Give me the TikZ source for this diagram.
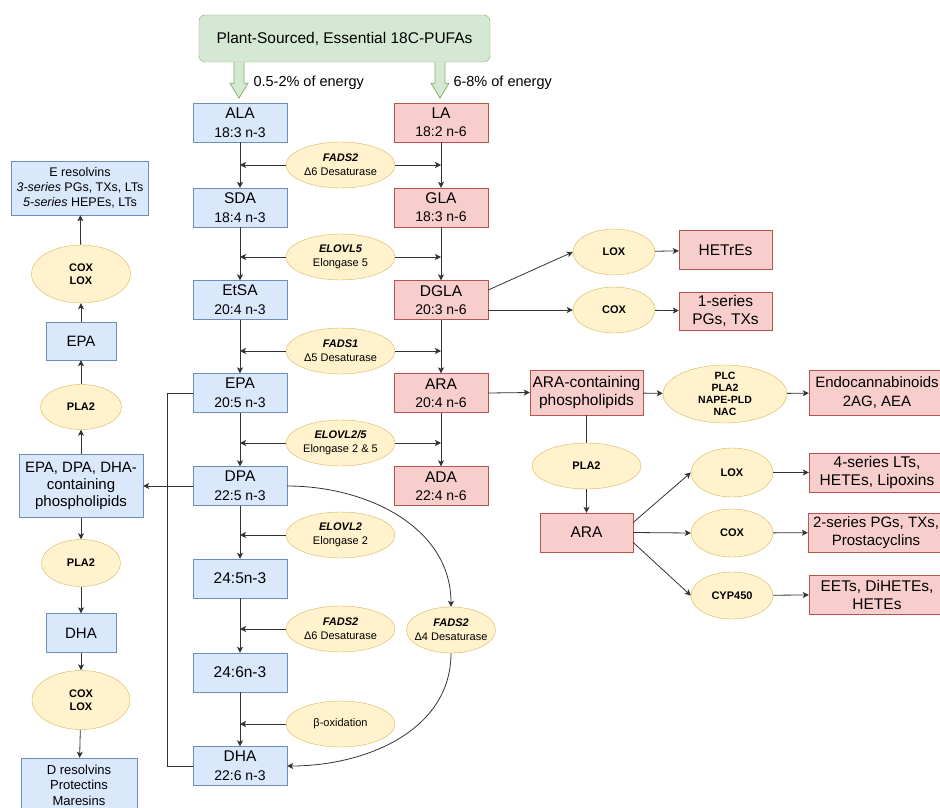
\documentclass[tikz,border=0pt]{standalone}
\usepackage{fontspec}
\setmainfont{Liberation Sans}
\usepackage{xcolor}
\usepackage{tikz}
\usetikzlibrary{arrows.meta, shapes.geometric, calc}
\definecolor{nthreefill}{HTML}{DAE8FC}
\definecolor{nthreeline}{HTML}{6C8EBF}
\definecolor{nsixfill}{HTML}{F8CECC}
\definecolor{nsixline}{HTML}{B85450}
\definecolor{enzfill}{HTML}{FFF2CC}
\definecolor{enzline}{HTML}{D6B656}
\definecolor{srcfill}{HTML}{D5E8D4}
\definecolor{srcline}{HTML}{82B366}
\definecolor{wire}{HTML}{333333}

\newcommand{\fsz}[2]{\fontsize{#1}{#2}\selectfont}
\newcommand{\acid}[2]{#1\\{\fsz{14}{19}#2}}
\newcommand{\enz}[2]{{\bfseries\itshape #1}\\#2}

\begin{document}
\begin{tikzpicture}[x=1pt, y=-1pt, >={Stealth[length=6pt, width=6pt, inset=1.5pt]},
  wire/.style={draw=wire, line width=0.8pt},
  nthree/.style={draw=nthreeline, fill=nthreefill, inner sep=0pt, align=center, font=\fsz{15.5}{19}},
  nsix/.style={draw=nsixline, fill=nsixfill, inner sep=0pt, align=center, font=\fsz{15.5}{18}},
  chainbox/.style={minimum width=94pt, minimum height=39pt},
  enzyme/.style={ellipse, draw=enzline, fill=enzfill, inner sep=0pt, align=center,
    font=\fsz{11}{14}, minimum width=109pt, minimum height=46pt},
  enzb/.style={ellipse, draw=enzline, fill=enzfill, inner sep=0pt, align=center,
    font=\fsz{11}{12.5}\bfseries, minimum width=82pt, minimum height=46pt},
  energy/.style={draw=srcline, fill=srcfill, line width=0.8pt, line join=miter}]
  \useasboundingbox (0,0) rectangle (940,808);

  % Source box and energy arrows
  \node[draw=srcline, fill=srcfill, rounded corners=6pt, minimum width=291pt, minimum height=47pt,
    font=\fsz{15.5}{18}] (src) at (344.5,38.5) {Plant-Sourced, Essential 18C-PUFAs};

  % omega-3 chain
  \node[nthree, chainbox] (ala) at (240,122.5) {\acid{ALA}{18:3 n-3}};
  \node[nthree, chainbox] (sda) at (240,207.5) {\acid{SDA}{18:4 n-3}};
  \node[nthree, chainbox] (etsa) at (240,300) {\acid{EtSA}{20:4 n-3}};
  \node[nthree, chainbox] (epa) at (240,393) {\acid{EPA}{20:5 n-3}};
  \node[nthree, chainbox] (dpa) at (240,486) {\acid{DPA}{22:5 n-3}};
  \node[nthree, chainbox] (cfive) at (240,578.5) {24:5n-3};
  \node[nthree, chainbox] (csix) at (240,672.5) {24:6n-3};
  \node[nthree, chainbox] (dha) at (240,766) {\acid{DHA}{22:6 n-3}};

  % omega-6 chain
  \node[nsix, chainbox] (la) at (441,122.5) {\acid{LA}{18:2 n-6}};
  \node[nsix, chainbox] (gla) at (441,207.5) {\acid{GLA}{18:3 n-6}};
  \node[nsix, chainbox] (dgla) at (441,300) {\acid{DGLA}{20:3 n-6}};
  \node[nsix, chainbox] (ara) at (441,393) {\acid{ARA}{20:4 n-6}};
  \node[nsix, chainbox] (ada) at (441,486) {\acid{ADA}{22:4 n-6}};

  \foreach \tgt in {ala,la}
    \draw[energy] ($(src.south -| \tgt)+(-6,0)$) -- ++(0,21) -- ++(-4,0) -- ++(9,15)
      -- ++(9,-15) -- ++(-4,0) -- ++(0,-21);
  \node[anchor=west, font=\fsz{14.5}{17}] (enthree) at (250,83) {0.5-2\% of energy};
  \node[anchor=west, font=\fsz{14.5}{17}] (ensix) at (450,83) {6-8\% of energy};

  % Desaturases and elongases
  \node[enzyme] (fadsa) at (340.5,165) {\enz{FADS2}{Δ6 Desaturase}};
  \node[enzyme] (elovla) at (340.5,257) {\enz{ELOVL5}{Elongase 5}};
  \node[enzyme] (fadsb) at (340.5,351) {\enz{FADS1}{Δ5 Desaturase}};
  \node[enzyme] (elovlb) at (340.5,443) {\enz{ELOVL2/5}{Elongase 2 \& 5}};
  \node[enzyme] (elovlc) at (340.5,535) {\enz{ELOVL2}{Elongase 2}};
  \node[enzyme] (fadsc) at (340.5,629) {\enz{FADS2}{Δ6 Desaturase}};
  \node[enzyme] (betaox) at (340.5,724) {β-oxidation};
  \node[enzyme, minimum width=89pt, inner xsep=-9pt] (fadsd) at (451,630) {\enz{FADS2}{Δ4 Desaturase}};

  \foreach \a/\b in {ala/sda, sda/etsa, etsa/epa, epa/dpa, dpa/cfive, cfive/csix, csix/dha,
                     la/gla, gla/dgla, dgla/ara, ara/ada}
    \draw[wire, ->] (\a) -- (\b);
  \foreach \e in {fadsa, elovla, fadsb, elovlb} {
    \draw[wire, ->] (\e.west) -- (\e.west -| ala);
    \draw[wire, ->] (\e.east) -- (\e.east -| la);
  }
  \foreach \e in {elovlc, fadsc, betaox}
    \draw[wire, ->] (\e.west) -- (\e.west -| ala);
  \draw[wire, ->] (dpa.east) to[out=0, in=90] (fadsd.north);
  \draw[wire, ->] (fadsd.south) to[out=-90, in=0] (dha.east);

  % Phospholipid branch (left)
  \node[nthree, minimum width=137pt, minimum height=54pt, font=\fsz{12.5}{15}] (eres) at (80,188)
    {E resolvins\\\textit{3-series} PGs, TXs, LTs\\\textit{5-series} HEPEs, LTs};
  \node[enzb, minimum width=99pt, minimum height=58pt] (coxa) at (81,274) {COX\\LOX};
  \node[nthree, minimum width=70pt, minimum height=38pt, font=\fsz{15}{18}] (epal) at (81,341) {EPA};
  \node[enzb, minimum width=81pt, minimum height=45pt] (plaa) at (81,407) {PLA2};
  \node[nthree, minimum width=124pt, minimum height=63pt, font=\fsz{15}{17}] (phos) at (81,486)
    {EPA, DPA, DHA-\\containing\\phospholipids};
  \node[enzb, minimum width=79pt, minimum height=47pt] (plab) at (81,563) {PLA2};
  \node[nthree, minimum width=70pt, minimum height=39pt, font=\fsz{15}{18}] (dhal) at (81,633) {DHA};
  \node[enzb, minimum width=98pt, minimum height=59pt] (coxb) at (81,700) {COX\\LOX};
  \node[nthree, minimum width=116pt, minimum height=54pt, font=\fsz{13}{15.5}] (dres) at (79,785)
    {D resolvins\\Protectins\\Maresins};

  \draw[wire] (epa.west) -- ++(-25,0) |- (dha.west);
  \draw[wire, ->] (dpa.west) -- (phos.east);
  \foreach \a/\b in {phos/plaa, plaa/epal, epal/coxa, coxa/eres,
                     phos/plab, plab/dhal, dhal/coxb, coxb/dres}
    \draw[wire, ->] (\a) -- (\b);

  % Eicosanoid branch (right)
  \node[enzb] (loxa) at (614,252) {LOX};
  \node[nsix, minimum width=93pt, minimum height=39pt] (hetre) at (725.5,250) {HETrEs};
  \node[enzb] (coxc) at (614,310) {COX};
  \node[nsix, minimum width=93pt, minimum height=38pt] (serone) at (725.5,311) {1-series\\PGs, TXs};
  \node[nsix, minimum width=113pt, minimum height=45pt] (aracp) at (586.5,392.5)
    {ARA-containing\\phospholipids};
  \node[enzb, minimum width=124pt, minimum height=58pt, inner ysep=-6pt, font=\fsz{10.5}{12}\bfseries]
    (plc) at (725,394) {PLC\\PLA2\\NAPE-PLD\\NAC};
  \node[nsix, minimum width=136pt, minimum height=45pt, font=\fsz{15}{19}] (endo) at (877,392.5)
    {Endocannabinoids\\2AG, AEA};
  \node[enzb, minimum width=109pt] (plac) at (586.5,466) {PLA2};
  \node[nsix, minimum width=93pt, minimum height=39pt] (arab) at (586.5,532.5) {ARA};
  \node[enzb, minimum height=49pt] (loxb) at (732,472.5) {LOX};
  \node[enzb, minimum height=48pt] (coxd) at (732,533) {COX};
  \node[enzb, minimum height=47pt] (cyp) at (732,595.5) {CYP450};
  \node[nsix, minimum width=136pt, minimum height=39pt] (serfour) at (877,472.5)
    {4-series LTs,\\HETEs, Lipoxins};
  \node[nsix, minimum width=136pt, minimum height=39pt, font=\fsz{15}{18}] (sertwo) at (876,532.5)
    {2-series PGs, TXs,\\Prostacyclins};
  \node[nsix, minimum width=136pt, minimum height=39pt] (eets) at (877,594.5)
    {EETs, DiHETEs,\\HETEs};

  \draw[wire, ->] ([yshift=10pt]dgla.east) -- (loxa.west);
  \draw[wire, ->] ([yshift=-10pt]dgla.east) -- (coxc.west);
  \draw[wire, ->] (ara.east) -- (aracp.west);
  \draw[wire] (aracp.south) -- (plac.north);
  \draw[wire, ->] ([yshift=10pt]arab.east) -- (loxb.west);
  \draw[wire, ->] (arab.east) -- (coxd.west);
  \draw[wire, ->] ([yshift=-10pt]arab.east) -- (cyp.west);
  \foreach \a/\b in {loxa/hetre, coxc/serone, aracp/plc, plc/endo, plac/arab,
                     loxb/serfour, coxd/sertwo, cyp/eets}
    \draw[wire, ->] (\a) -- (\b);
\end{tikzpicture}
\end{document}
